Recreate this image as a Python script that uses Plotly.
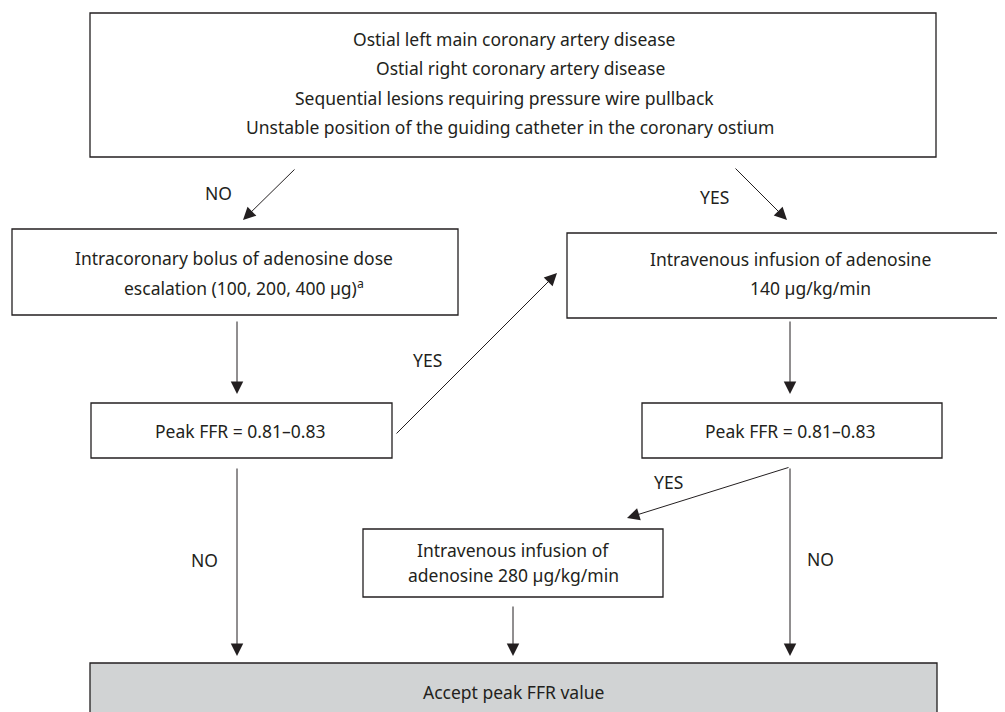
import plotly.graph_objects as go

# ---- flowchart content ----
top_lines = [
    "Ostial left main coronary artery disease",
    "Ostial right coronary artery disease",
    "Sequential lesions requiring pressure wire pullback",
    "Unstable position of the guiding catheter in the coronary ostium",
]
ic_bolus_lines = [
    "Intracoronary bolus of adenosine dose",
    "escalation (100, 200, 400 µg)<sup>a</sup>",
]
iv_140_lines = ["Intravenous infusion of adenosine", "140 µg/kg/min"]
peak_lines = ["Peak FFR = 0.81–0.83"]
iv_280_lines = ["Intravenous infusion of", "adenosine 280 µg/kg/min"]
accept_lines = ["Accept peak FFR value"]
branch_labels = ["NO", "YES", "YES", "YES", "NO", "NO"]

INK = "#231f20"
FONT = "Noto Sans"
SIZE = 17.5

# layout geometry (page pixels, y down)
boxes = {
    "top": (90, 13, 936, 157),
    "ic": (12, 229, 458, 315),
    "iv140": (567, 233, 1003, 318),
    "peakL": (91, 403, 392, 458),
    "peakR": (642, 403, 942, 458),
    "iv280": (363, 529, 663, 597),
    "accept": (90, 663, 937, 730),
}

fig = go.Figure()
fig.add_trace(go.Scatter(x=[10, 1000], y=[10, 700], mode="markers",
                         marker=dict(opacity=0), hoverinfo="skip", showlegend=False))

for name, (x0, y0, x1, y1) in boxes.items():
    fig.add_shape(type="rect", x0=x0, y0=y0, x1=x1, y1=y1,
                  line=dict(color=INK, width=1.3),
                  fillcolor="#d1d3d4" if name == "accept" else "white", layer="below")


def add_lines(lines, xs, ys):
    for txt, x, y in zip(lines, xs, ys):
        fig.add_annotation(x=x, y=y, text=txt, showarrow=False,
                           font=dict(family=FONT, size=SIZE, color=INK),
                           xanchor="center", yanchor="middle")


add_lines(top_lines, [514, 520, 504, 510], [39, 68, 98, 127])
add_lines(ic_bolus_lines, [234, 244], [258, 287])
add_lines(iv_140_lines, [790, 810], [259, 288])
add_lines(peak_lines, [240], [431])
add_lines(peak_lines, [790], [431])
add_lines(iv_280_lines, [513, 513], [550, 575])
add_lines(accept_lines, [513], [692])
add_lines(branch_labels, [218, 714, 427, 668, 204, 820], [193, 197, 360, 482, 560, 559])

# arrows: (tail x, tail y, tip x, tip y)
arrows = [
    (296, 168, 243, 220),
    (734, 167, 787, 220),
    (237, 320, 237, 394),
    (790, 320, 790, 394),
    (395, 435, 557, 273),
    (237, 467, 237, 656),
    (790, 467, 627, 518),
    (790, 467, 790, 656),
    (513, 605, 513, 656),
]
for ax, ay, x, y in arrows:
    fig.add_annotation(x=x, y=y, ax=ax, ay=ay, xref="x", yref="y",
                       axref="x", ayref="y", text="", showarrow=True,
                       arrowhead=2, arrowsize=2.5, arrowwidth=1,
                       arrowcolor=INK, standoff=0)

# the page body has an 8px margin, so shift the axes to keep page pixels = data units
fig.update_layout(
    width=1005, height=712,
    margin=dict(l=0, r=0, t=0, b=0),
    plot_bgcolor="white", paper_bgcolor="white",
    xaxis=dict(range=[8, 1013], visible=False, fixedrange=True),
    yaxis=dict(range=[720, 8], visible=False, fixedrange=True),
    showlegend=False,
)
fig.write_html("out.html", config={"displayModeBar": False})
